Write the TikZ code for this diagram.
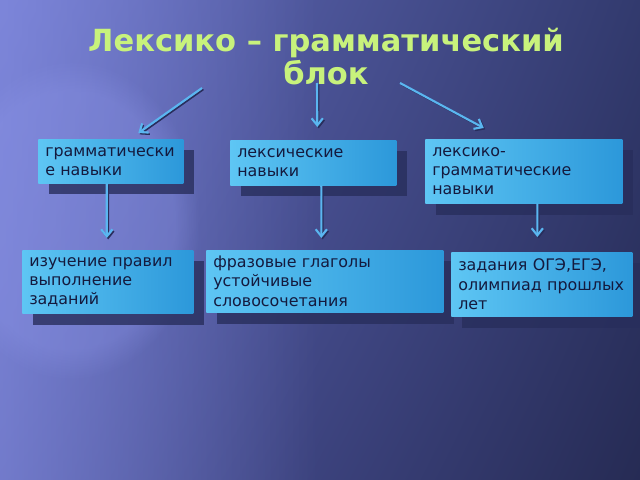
\documentclass[tikz,border=0pt]{standalone}
\usepackage{fontspec}
\setmainfont{DejaVu Sans}
\usetikzlibrary{shadows,shadings,fadings,arrows.meta}

\definecolor{bgtl}{HTML}{6770C4}
\definecolor{bgtr}{HTML}{323A6E}
\definecolor{bgbl}{HTML}{5058A4}
\definecolor{bgbr}{HTML}{262B54}
\definecolor{glow}{HTML}{8F98EC}
\definecolor{titlegreen}{HTML}{C8F27C}
\definecolor{boxlight}{HTML}{5EC6F4}
\definecolor{boxdark}{HTML}{2C98DA}
\definecolor{boxtext}{HTML}{141A3E}
\definecolor{shadowblue}{HTML}{282E5C}
\definecolor{arrowblue}{HTML}{5AB6F0}

\tikzset{
  skill/.style={anchor=north west, left color=boxlight, right color=boxdark,
    text=boxtext, align=left, inner xsep=0.175cm, inner ysep=0pt,
    font=\fontsize{11.3}{13.6}\selectfont,
    drop shadow={shadow xshift=0.27cm, shadow yshift=-0.28cm, fill=shadowblue, opacity=.8}},
  link/.style={draw=arrowblue, line width=1.5pt, -{Straight Barb[length=5pt,width=8pt]},
    preaction={draw=shadowblue, line width=1.2pt, transform canvas={shift={(1pt,-1pt)}}}}
}

\begin{document}
\begin{tikzpicture}[x=0.025cm, y=-0.025cm]
    \useasboundingbox (0,0) rectangle (640,480);
    \shade [upper left=bgtl, upper right=bgtr, lower left=bgbl, lower right=bgbr] (0,0) rectangle (640,480);
    \fill [glow, opacity=.55, path fading=east] (0,0) rectangle (320,480);
    \fill [glow, opacity=.3, path fading=circle with fuzzy edge 20 percent] (-60,60) rectangle (200,380);

    \node [text=titlegreen, font=\bfseries\fontsize{21.7}{23.5}\selectfont, align=center] (title) at (326,57) {Лексико – грамматический\\блок};

    \node [skill, text width=3.275cm, minimum height=1.1cm] (gram) at (38,139) {грамматически\\е навыки};
    \node [skill, text width=3.8cm, minimum height=1.125cm] (lex) at (230,140) {лексические\\навыки};
    \node [skill, text width=4.575cm, minimum height=1.6cm] (lexgram) at (425,139) {лексико-\\грамматические\\навыки};
    \node [skill, text width=3.925cm, minimum height=1.575cm] (rules) at (22,250) {изучение правил\\выполнение\\заданий};
    \node [skill, text width=5.575cm, minimum height=1.55cm] (phrasal) at (206,250) {фразовые глаголы\\устойчивые\\словосочетания};
    \node [skill, text width=4.175cm, minimum height=1.6cm] (exams) at (451,252) {задания ОГЭ,ЕГЭ,\\олимпиад прошлых\\лет};

    \coordinate (fromleft) at (202,88);
    \coordinate (frommid) at (317,83);
    \coordinate (fromright) at (400,83);
    \draw [link] (fromleft) -- ([shift={(27.5,-6)}]gram.north);
    \draw [link] (frommid) -- ([shift={(4,-13)}]lex.north);
    \draw [link] (fromright) -- ([shift={(-40,-11)}]lexgram.north);

    \draw [link] ([shift={(-4,0)}]gram.south) -- ([shift={(-1,-12)}]rules.north);
    \draw [link] ([shift={(8,0)}]lex.south) -- ([shift={(-3.5,-12)}]phrasal.north);
    \draw [link] ([shift={(13.5,0)}]lexgram.south) -- ([shift={(-4.5,-15)}]exams.north);
\end{tikzpicture}
\end{document}
